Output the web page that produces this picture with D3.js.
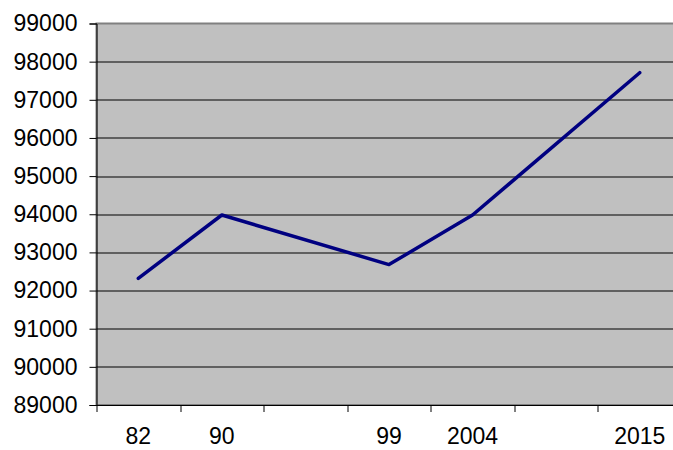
<!DOCTYPE html>
<html>
<head>
<meta charset="utf-8">
<script src="https://cdn.jsdelivr.net/npm/d3@7"></script>
<style>
  body { margin: 0; background: #fff; }
  svg text { font-family: "Liberation Sans", Arial, sans-serif; }
</style>
</head>
<body>
<div id="chart"></div>
<script>
// categories (blank slots are real categories without a value)
var categories = ["82", "90", "", "99", "2004", "", "2015"];
var values = [92320, 93980, null, 92680, 93980, null, 97710];
var yTicks = [89000, 90000, 91000, 92000, 93000, 94000, 95000, 96000, 97000, 98000, 99000];

var margin = { top: 23.5, right: -8.5, bottom: 45, left: 96.5 },
  width = 673 - margin.left - margin.right,
  height = 450 - margin.top - margin.bottom;

var svg = d3
  .select("#chart")
  .append("svg")
  .attr("width", 673)
  .attr("height", 450)
  .append("g")
  .attr("transform", "translate(" + margin.left + "," + margin.top + ")");

var x = d3.scaleBand().domain(d3.range(categories.length)).range([0, width]);
var y = d3.scaleLinear().domain([89000, 99000]).range([height, 0]);

// plot area
svg
  .append("rect")
  .attr("width", width)
  .attr("height", height)
  .style("fill", "#c0c0c0")
  .style("stroke", "#808080")
  .style("stroke-width", 2);

// gridlines
svg
  .append("g")
  .selectAll("line")
  .data(yTicks.slice(1, -1))
  .enter()
  .append("line")
  .attr("x1", 0)
  .attr("x2", width)
  .attr("y1", function (d) { return Math.round(y(d)) + 0.5; })
  .attr("y2", function (d) { return Math.round(y(d)) + 0.5; })
  .style("stroke", "#000")
  .style("stroke-width", 1);

// y axis
var yAxis = svg
  .append("g")
  .attr("class", "y axis")
  .call(d3.axisLeft(y).tickValues(yTicks).tickSize(7).tickPadding(12).tickFormat(d3.format("d")));
yAxis.select(".domain").style("stroke", "#000");
yAxis.selectAll("line").style("stroke", "#000");
yAxis.selectAll("text").style("font-size", "23px").style("fill", "#000");

// x axis
var xAxis = svg
  .append("g")
  .attr("class", "x axis")
  .attr("transform", "translate(0," + height + ")")
  .call(d3.axisBottom(x).tickSize(0).tickFormat(function (i) { return categories[i]; }));
xAxis.select(".domain").style("stroke", "#000");
xAxis.selectAll("text")
  .attr("dy", "0")
  .attr("y", 39)
  .style("font-size", "23px")
  .style("fill", "#000");

// category boundary ticks
svg
  .append("g")
  .selectAll("line")
  .data(d3.range(categories.length + 1))
  .enter()
  .append("line")
  .attr("x1", function (i) { return Math.round(i * x.step()) + 0.5; })
  .attr("x2", function (i) { return Math.round(i * x.step()) + 0.5; })
  .attr("y1", height)
  .attr("y2", height + 7)
  .style("stroke", "#000");

// line (blank categories are skipped and bridged)
var pts = values
  .map(function (v, i) { return { i: i, v: v }; })
  .filter(function (d) { return d.v !== null; });

var line = d3
  .line()
  .x(function (d) { return x(d.i) + x.bandwidth() / 2; })
  .y(function (d) { return y(d.v); });

svg
  .append("path")
  .datum(pts)
  .attr("d", line)
  .style("fill", "none")
  .style("stroke", "#000080")
  .style("stroke-width", 3.5)
  .style("stroke-linejoin", "round")
  .style("stroke-linecap", "round");
</script>
</body>
</html>
